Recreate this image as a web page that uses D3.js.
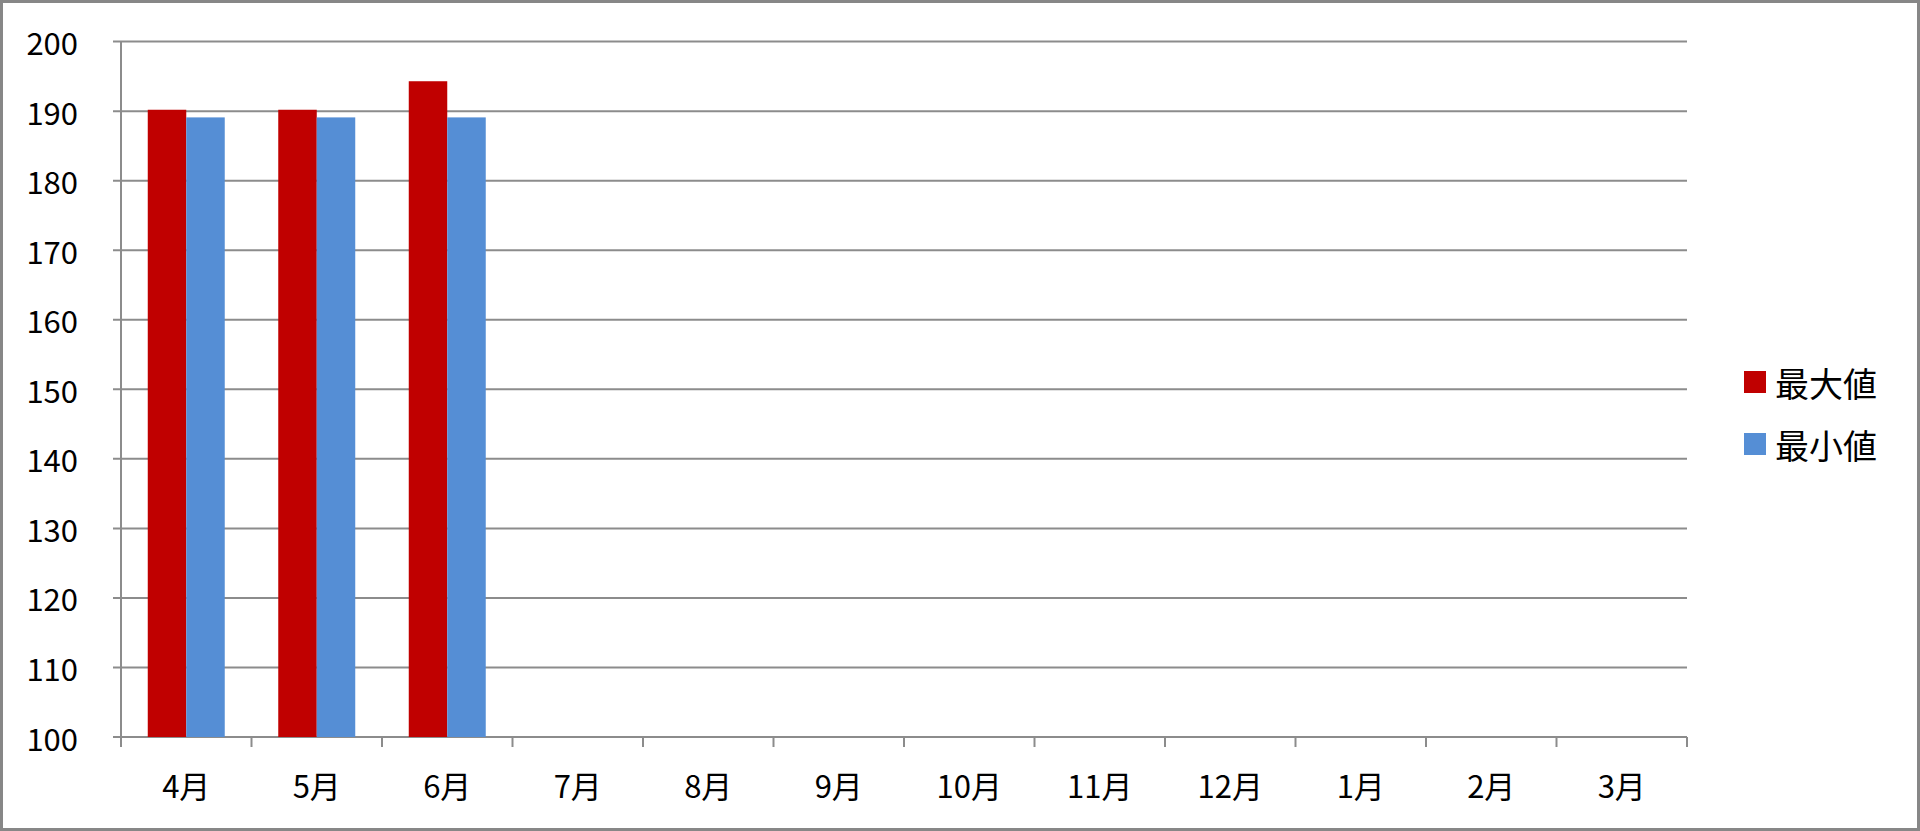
<!DOCTYPE html>
<html>
<head>
<meta charset="utf-8">
<script src="https://cdn.jsdelivr.net/npm/d3@7"></script>
<style>
  html, body { margin: 0; padding: 0; background: #fff; }
  svg { display: block; }
</style>
</head>
<body>
<div id="chart"></div>
<script>
// data
var months = ['4月','5月','6月','7月','8月','9月','10月','11月','12月','1月','2月','3月'];
var seriesNames = ['最大値','最小値'];
var maxValues = [190.2, 190.2, 194.3, null, null, null, null, null, null, null, null, null];
var minValues = [189.1, 189.1, 189.1, null, null, null, null, null, null, null, null, null];
var yTicks = [100,110,120,130,140,150,160,170,180,190,200];
var colors = ['#C00000','#558ED5'];

var width = 1920, height = 831;
var plotLeft = 121, plotRight = 1687, plotTop = 41.6, plotBottom = 737;
var fontFam = '"Noto Sans CJK JP", "Noto Sans", sans-serif';
var gridColor = '#8c8c8c';

var svg = d3.select('#chart').append('svg').attr('width', width).attr('height', height);

//outer frame
svg.append('rect').attr('x',1.5).attr('y',1.5).attr('width',width-3).attr('height',height-3)
  .attr('fill','#fff').attr('stroke','#878787').attr('stroke-width',3);

var x0 = d3.scaleBand().domain(months).range([plotLeft, plotRight]).padding(0);
var gap = x0.bandwidth()*0.205;
var x1 = d3.scaleBand().domain(seriesNames).range([gap, x0.bandwidth()-gap]).padding(0);
var y = d3.scaleLinear().domain([100,200]).range([plotBottom, plotTop]);

//gridlines + y axis ticks
svg.append('g').selectAll('line').data(yTicks).enter().append('line')
  .attr('x1', plotLeft-8).attr('x2', plotRight)
  .attr('y1', function(d){return y(d);}).attr('y2', function(d){return y(d);})
  .attr('stroke', gridColor).attr('stroke-width', 2);

svg.append('line').attr('x1',plotLeft).attr('x2',plotLeft).attr('y1',plotTop).attr('y2',plotBottom)
  .attr('stroke',gridColor).attr('stroke-width',2);

svg.append('g').selectAll('text').data(yTicks).enter().append('text')
  .attr('x', 78).attr('y', function(d){return y(d);})
  .attr('text-anchor','end').attr('dominant-baseline','central')
  .attr('font-family',fontFam).attr('font-size',31).attr('fill','#000')
  .text(function(d){return d;});

//x axis ticks at category boundaries
var bounds = months.map(function(m){return x0(m);}).concat([plotRight]);
svg.append('g').selectAll('line').data(bounds).enter().append('line')
  .attr('x1', function(d){return d;}).attr('x2', function(d){return d;})
  .attr('y1', plotBottom).attr('y2', plotBottom+10)
  .attr('stroke', gridColor).attr('stroke-width', 2);

svg.append('g').selectAll('text').data(months).enter().append('text')
  .attr('x', function(d){return x0(d)+x0.bandwidth()/2;}).attr('y', 784)
  .attr('text-anchor','middle').attr('dominant-baseline','central')
  .attr('font-family',fontFam).attr('font-size',31).attr('fill','#000')
  .text(function(d){return d;});

//bars
var rows = months.map(function(m,i){
  return {month:m, vals:[{s:seriesNames[0],v:maxValues[i],c:colors[0]},{s:seriesNames[1],v:minValues[i],c:colors[1]}]};
});
var groups = svg.append('g').selectAll('g').data(rows).enter().append('g')
  .attr('transform', function(d){return 'translate('+x0(d.month)+',0)';});
groups.selectAll('rect').data(function(d){return d.vals.filter(function(v){return v.v!=null;});})
  .enter().append('rect')
  .attr('x', function(d){return x1(d.s);}).attr('width', x1.bandwidth())
  .attr('y', function(d){return y(d.v);}).attr('height', function(d){return y(100)-y(d.v);})
  .attr('fill', function(d){return d.c;});

//legend
var legend = svg.append('g').selectAll('g').data(seriesNames).enter().append('g')
  .attr('transform', function(d,i){return 'translate(1744,'+(371+i*62)+')';});
legend.append('rect').attr('width',22).attr('height',22)
  .attr('fill', function(d,i){return colors[i];});
legend.append('text').attr('x',31).attr('y',11).attr('dominant-baseline','central')
  .attr('font-family',fontFam).attr('font-size',34).attr('fill','#000')
  .text(function(d){return d;});
</script>
</body>
</html>
